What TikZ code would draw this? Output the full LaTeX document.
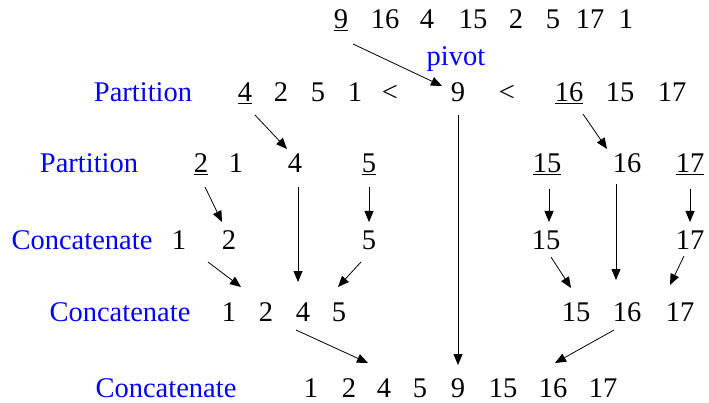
\documentclass[tikz,border=0pt]{standalone}
\usepackage{fontspec}
\setmainfont{Liberation Serif}
\usepackage{tikz}
\usetikzlibrary{arrows.meta}

\begin{document}
\begin{tikzpicture}[x=1pt,y=1pt,
  num/.style={anchor=base,inner sep=0pt,outer sep=0pt,font=\fontsize{28.5}{34}\selectfont},
  lbl/.style={num,text=labelColor},
  arr/.style={draw=drawColor,line width=0.8pt,-{Triangle[length=11pt,width=9pt]}}]
\definecolor{fillColor}{RGB}{255,255,255}
\definecolor{drawColor}{RGB}{0,0,0}
\definecolor{labelColor}{RGB}{0,0,255}
\path[use as bounding box,fill=fillColor] (0,0) rectangle (709,402);

% input list
\node[num] (a9)  at (341,373) {\underline{9}};
\node[num] (a16) at (385,373) {16};
\node[num] (a4)  at (427,373) {4};
\node[num] (a15) at (473,373) {15};
\node[num] (a2)  at (516,373) {2};
\node[num] (a5)  at (553,373) {5};
\node[num] (a17) at (590,373) {17};
\node[num] (a1)  at (626,373) {1};
\node[lbl] (pivot) at (456,336) {pivot};

% first partition
\node[lbl] (partA) at (143,300) {Partition};
\node[num] (b4)  at (245,300) {\underline{4}};
\node[num] (b2)  at (281,300) {2};
\node[num] (b5)  at (318,300) {5};
\node[num] (b1)  at (355,300) {1};
\node[num] (blt) at (390,300) {<};
\node[num] (b9)  at (458,300) {9};
\node[num] (bgt) at (507,300) {<};
\node[num] (b16) at (569,300) {\underline{16}};
\node[num] (b15) at (620,300) {15};
\node[num] (b17) at (672,300) {17};

% second partition
\node[lbl] (partB) at ( 89,229) {Partition};
\node[num] (c2)  at (201,229) {\underline{2}};
\node[num] (c1)  at (236,229) {1};
\node[num] (c4)  at (295,229) {4};
\node[num] (c5)  at (369,229) {\underline{5}};
\node[num] (c15) at (547,229) {\underline{15}};
\node[num] (c16) at (627,229) {16};
\node[num] (c17) at (690,229) {\underline{17}};

% first concatenation
\node[lbl] (catA) at ( 82,153) {Concatenate};
\node[num] (d1)  at (179,153) {1};
\node[num] (d2)  at (229,153) {2};
\node[num] (d5)  at (369,153) {5};
\node[num] (d15) at (546,153) {15};
\node[num] (d17) at (690,153) {17};

% second concatenation
\node[lbl] (catB) at (120, 81) {Concatenate};
\node[num] (e1)  at (229, 81) {1};
\node[num] (e2)  at (266, 81) {2};
\node[num] (e4)  at (303, 81) {4};
\node[num] (e5)  at (339, 81) {5};
\node[num] (e15) at (576, 81) {15};
\node[num] (e16) at (627, 81) {16};
\node[num] (e17) at (680, 81) {17};

% sorted list
\node[lbl] (catC) at (166,  5) {Concatenate};
\node[num] (f1)  at (311,  5) {1};
\node[num] (f2)  at (349,  5) {2};
\node[num] (f4)  at (384,  5) {4};
\node[num] (f5)  at (420,  5) {5};
\node[num] (f9)  at (458,  5) {9};
\node[num] (f15) at (503,  5) {15};
\node[num] (f16) at (553,  5) {16};
\node[num] (f17) at (603,  5) {17};

% arrows
\draw[arr] ([shift={( 12,-15)}]a9.base)  -- ([shift={(-16, 16)}]b9.base);
\draw[arr] ([shift={( 10,-13)}]b4.base)  -- ([shift={( -8, 24)}]c4.base);
\draw[arr] ([shift={( 14,-12)}]b16.base) -- ([shift={(-20, 24)}]c16.base);
\draw[arr] ([shift={(  0,-13)}]b9.base)  -- ([shift={(  0, 32)}]f9.base);
\draw[arr] ([shift={(  4,-14)}]c2.base)  -- ([shift={( -7, 27)}]d2.base);
\draw[arr] ([shift={(  3,-14)}]c4.base)  -- ([shift={( -5, 39)}]e4.base);
\draw[arr] ([shift={(  0,-14)}]c5.base)  -- ([shift={(  0, 27)}]d5.base);
\draw[arr] ([shift={(  2,-16)}]c15.base) -- ([shift={(  3, 27)}]d15.base);
\draw[arr] ([shift={(-11,-11)}]c16.base) -- ([shift={(-11, 41)}]e16.base);
\draw[arr] ([shift={(  0,-16)}]c17.base) -- ([shift={(  0, 27)}]d17.base);
\draw[arr] ([shift={( 29,-13)}]d1.base)  -- ([shift={( 12, 34)}]e1.base);
\draw[arr] ([shift={( -8,-13)}]d5.base)  -- ([shift={( -1, 34)}]e5.base);
\draw[arr] ([shift={(  5, -8)}]d15.base) -- ([shift={( -5, 33)}]e15.base);
\draw[arr] ([shift={( -6, -7)}]d17.base) -- ([shift={(-10, 36)}]e17.base);
\draw[arr] ([shift={( -7, -9)}]e4.base)  -- ([shift={(-16, 34)}]f4.base);
\draw[arr] ([shift={(-13, -9)}]e16.base) -- ([shift={(  2, 34)}]f16.base);
\end{tikzpicture}
\end{document}
